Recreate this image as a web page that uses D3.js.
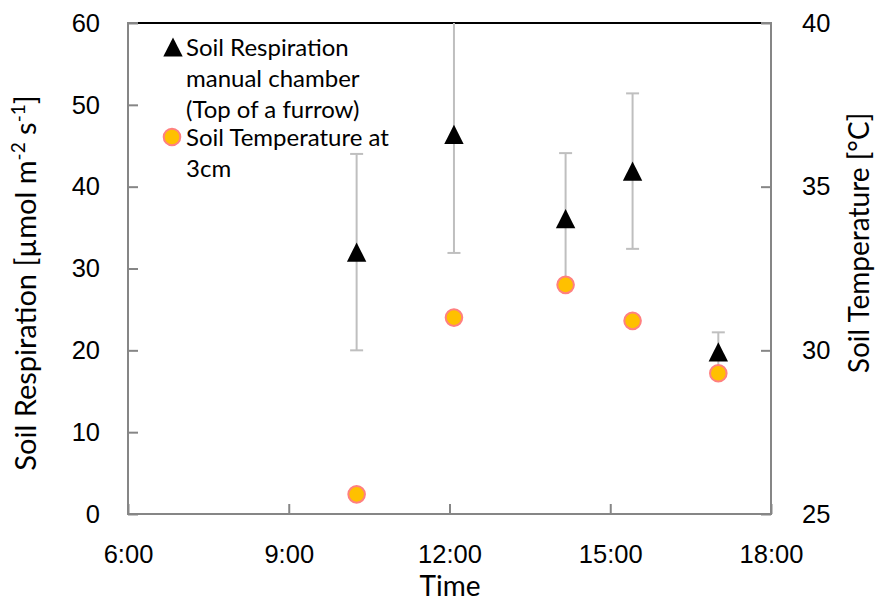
<!DOCTYPE html>
<html>
<head>
<meta charset="utf-8">
<script src="https://cdn.jsdelivr.net/npm/d3@7"></script>
<style>
  body { margin: 0; background: #fff; }
  svg { display: block; font-family: Lato, "Open Sans", sans-serif; }
</style>
</head>
<body>
<svg id="chart" width="880" height="604"></svg>
<script>
// Measurement times (h:mm)
const times = ["10:16", "12:05", "14:10", "15:25", "17:01"];
// Soil respiration, manual chamber, top of a furrow [µmol m-2 s-1]
const respiration = [32.0, 46.4, 36.1, 41.9, 19.8];
const respirationErr = [12.0, 14.5, 8.0, 9.5, 2.4];
// Soil temperature at 3 cm [°C]
const soilTemp = [25.6, 31.0, 32.0, 30.9, 29.3];

// Axis ticks
const timeTicks = ["6:00", "9:00", "12:00", "15:00", "18:00"];
const respTicks = [0, 10, 20, 30, 40, 50, 60];
const tempTicks = [25, 30, 35, 40];

const toHours = s => { const [h, m] = s.split(":").map(Number); return h + m / 60; };

const svg = d3.select("#chart");
const L = 128, R = 771, T = 23, B = 514;
const AXIS = "#868686";

const x = d3.scaleLinear().domain([toHours(timeTicks[0]), toHours(timeTicks[timeTicks.length - 1])]).range([L, R]);
const yL = d3.scaleLinear().domain([0, 60]).range([B, T]);
const yR = d3.scaleLinear().domain([25, 40]).range([B, T]);

svg.append("defs").append("clipPath").attr("id", "plot-clip")
  .append("rect").attr("x", L).attr("y", T).attr("width", R - L).attr("height", B - T);

// Axes with inward ticks
function styleAxis(g) {
  g.select(".domain").remove();
  g.selectAll(".tick line").attr("stroke", AXIS).attr("stroke-width", 2);
  g.selectAll(".tick text").attr("fill", "#000").attr("font-size", 25.5);
}

svg.append("g").attr("transform", `translate(${L},0)`)
  .call(d3.axisLeft(yL).tickValues(respTicks).tickSizeInner(-10).tickSizeOuter(0).tickPadding(28))
  .call(styleAxis);

svg.append("g").attr("transform", `translate(${R},0)`)
  .call(d3.axisRight(yR).tickValues(tempTicks).tickSizeInner(-10).tickSizeOuter(0).tickPadding(31))
  .call(styleAxis);

svg.append("g").attr("transform", `translate(0,${B})`)
  .call(d3.axisBottom(x).tickValues(timeTicks.map(toHours))
    .tickFormat((d, i) => timeTicks[i]).tickSizeInner(-10).tickSizeOuter(0).tickPadding(31))
  .call(styleAxis);

// Plot frame
svg.append("rect").attr("x", L).attr("y", T).attr("width", R - L).attr("height", B - T)
  .attr("fill", "none").attr("stroke", AXIS).attr("stroke-width", 2);
svg.append("line").attr("x1", L + 10).attr("x2", R - 10).attr("y1", T).attr("y2", T)
  .attr("stroke", "#000").attr("stroke-width", 2);

// Error bars
const resp = times.map((t, i) => ({ h: toHours(t), v: respiration[i], e: respirationErr[i] }));
const eb = svg.append("g").attr("clip-path", "url(#plot-clip)")
  .attr("stroke", "#BFBFBF").attr("stroke-width", 2);
resp.forEach(d => {
  const cx = x(d.h), y0 = yL(d.v - d.e), y1 = yL(d.v + d.e);
  eb.append("line").attr("x1", cx).attr("x2", cx).attr("y1", y0).attr("y2", y1);
  eb.append("line").attr("x1", cx - 6.5).attr("x2", cx + 6.5).attr("y1", y0).attr("y2", y0);
  eb.append("line").attr("x1", cx - 6.5).attr("x2", cx + 6.5).attr("y1", y1).attr("y2", y1);
});

const triPath = "M0,-9.6L9.7,9.6L-9.7,9.6Z";

// Respiration markers
svg.append("g").selectAll("path").data(resp).join("path")
  .attr("d", triPath).attr("fill", "#000")
  .attr("transform", d => `translate(${x(d.h)},${yL(d.v)})`);

// Temperature markers (secondary axis)
const temp = times.map((t, i) => ({ h: toHours(t), v: soilTemp[i] }));
svg.append("g").selectAll("circle").data(temp).join("circle")
  .attr("cx", d => x(d.h)).attr("cy", d => yR(d.v)).attr("r", 8.3)
  .attr("fill", "#FFC000").attr("stroke", "#FF8080").attr("stroke-width", 2);

// Legend
const lg = svg.append("g").attr("font-size", 24).attr("fill", "#000");
lg.append("path").attr("d", triPath).attr("fill", "#000").attr("transform", "translate(173,47)");
lg.append("circle").attr("cx", 172).attr("cy", 137).attr("r", 8.3)
  .attr("fill", "#FFC000").attr("stroke", "#FF8080").attr("stroke-width", 2);
const legendLines = [
  ["Soil Respiration", 56], ["manual chamber", 87], ["(Top of a furrow)", 118],
  ["Soil Temperature at", 146], ["3cm", 177]
];
legendLines.forEach(([txt, y]) => lg.append("text").attr("x", 186).attr("y", y).text(txt));

// Axis titles
svg.append("text").attr("x", 450).attr("y", 596).attr("text-anchor", "middle")
  .attr("font-size", 28).text("Time");

const lt = svg.append("text").attr("transform", "translate(36,283) rotate(-90)")
  .attr("text-anchor", "middle").attr("font-size", 29);
lt.append("tspan").text("Soil Respiration [µmol m");
lt.append("tspan").attr("font-size", 19).attr("dy", -11).text("-2");
lt.append("tspan").attr("dy", 11).text(" s");
lt.append("tspan").attr("font-size", 19).attr("dy", -11).text("-1");
lt.append("tspan").attr("dy", 11).text("]");

svg.append("text").attr("transform", "translate(869,243) rotate(-90)")
  .attr("text-anchor", "middle").attr("font-size", 28).text("Soil Temperature [°C]");
</script>
</body>
</html>
